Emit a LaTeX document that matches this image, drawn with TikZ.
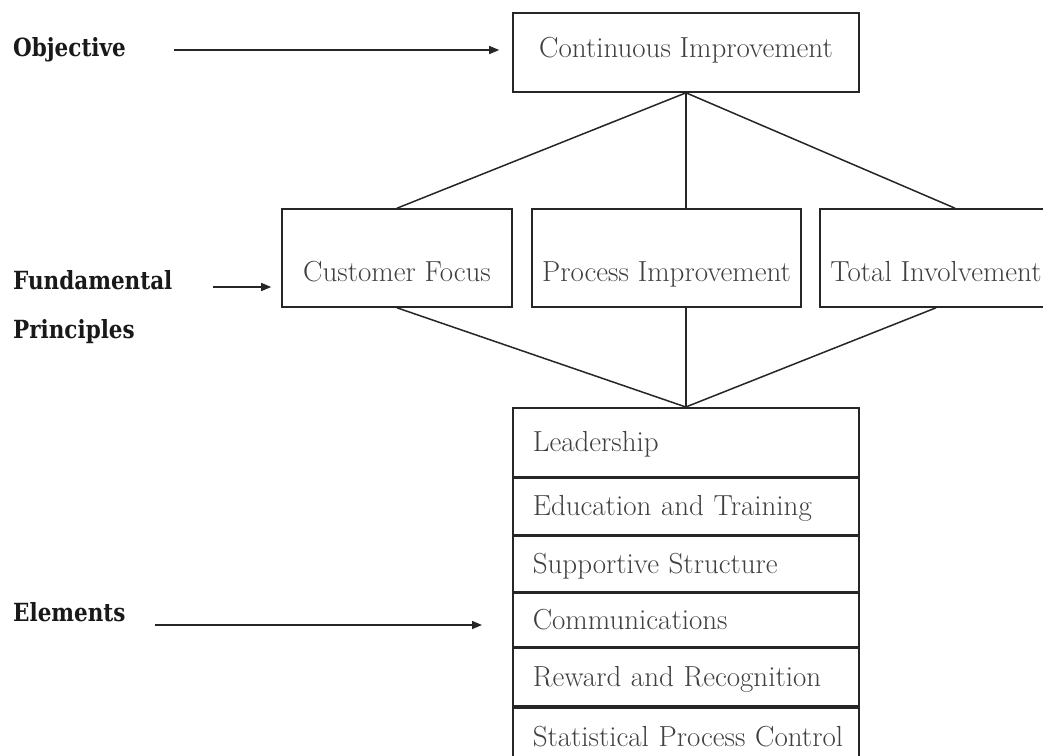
\documentclass[tikz,border=0pt]{standalone}
\usepackage{fontspec}
\usetikzlibrary{arrows.meta,positioning}
\newfontfamily\lblfont{DejaVu Serif}[FakeStretch=0.86]

\begin{document}
\begin{tikzpicture}[x=1pt,y=-1pt,
	box/.style={draw=black!85,line width=1.6pt,inner sep=0pt,text=black!75,font=\fontsize{29}{33}\selectfont},
	row/.style={box,inner xsep=20pt,text width=306pt,align=left,text height=19pt,text depth=0pt},
	lbl/.style={anchor=base west,inner sep=0pt,text=black!90,font=\lblfont\bfseries\fontsize{25}{29}\selectfont},
	link/.style={draw=black!85,line width=1.5pt},
	pointer/.style={link,-{Triangle[length=10pt,width=8pt]}}]
	\fill[white] (0,0) rectangle (1043,755);
	\useasboundingbox (0,0) rectangle (1043,755);
	\clip (0,0) rectangle (1043,755);
	% objective
	\node[box,minimum width=346pt,minimum height=79pt,text height=19pt,text depth=10pt] (ci) at (686,52.5) {Continuous Improvement};
	% fundamental principles
	\node[box,minimum width=230pt,minimum height=98pt,text height=47pt,text depth=0pt] (cf) at (397,258) {Customer Focus};
	\node[box,minimum width=269pt,minimum height=98pt,text height=47pt,text depth=0pt] (pi) at (666.5,258) {Process Improvement};
	\node[box,minimum width=232pt,minimum height=98pt,text height=47pt,text depth=0pt] (ti) at (936,258) {Total Involvement};
	% elements
	\node[row,anchor=north west,minimum height=69pt] (lead) at (512,407) {Leadership};
	\node[row,minimum height=56pt,below=0pt of lead] (edu) {Education and Training};
	\node[row,minimum height=56pt,below=0pt of edu] (sup) {Supportive Structure};
	\node[row,minimum height=53pt,below=0pt of sup] (com) {Communications};
	\node[row,minimum height=58pt,below=0pt of com] (rew) {Reward and Recognition};
	\node[row,minimum height=58pt,below=0pt of rew] (spc) {\mbox{Statistical Process Control}};
	% connectors
	\draw[link] (ci.south) -- (cf.north);
	\draw[link] (ci.south) -- (ci.south |- pi.north);
	\draw[link] (ci.south) -- ([xshift=19pt]ti.north);
	\draw[link] (cf.south) -- (lead.north);
	\draw[link] (lead.north |- pi.south) -- (lead.north);
	\draw[link] (ti.south) -- (lead.north);
	% labels
	\node[lbl] (obj) at (13,56) {Objective};
	\node[lbl] (fund) at (13,289) {Fundamental};
	\node[lbl] (prin) at (13,338) {Principles};
	\node[lbl] (elem) at (13,621) {Elements};
	\coordinate (objtail) at (174,50);
	\coordinate (fundtail) at (213,287);
	\coordinate (elemtail) at (155,625);
	\draw[pointer,shorten >=13pt] (objtail) -- (objtail -| ci.west);
	\draw[pointer,shorten >=10pt] (fundtail) -- (fundtail -| cf.west);
	\draw[pointer,shorten >=30pt] (elemtail) -- (elemtail -| lead.west);
\end{tikzpicture}
\end{document}
